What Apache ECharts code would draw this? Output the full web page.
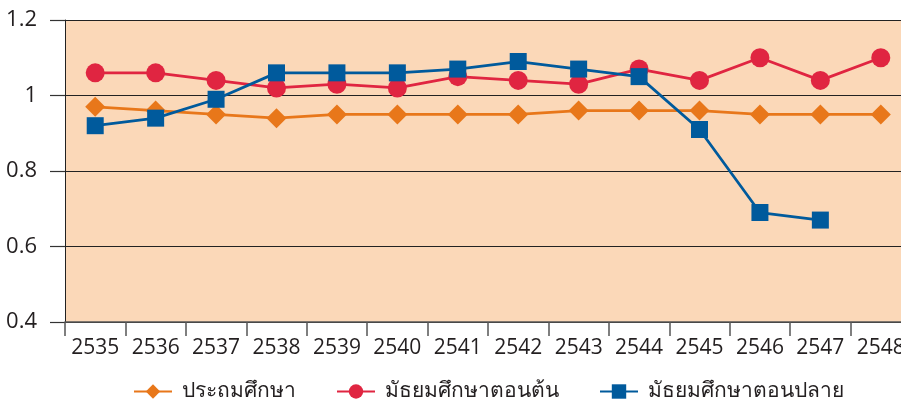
<!DOCTYPE html>
<html><head><meta charset="utf-8">
<script src="https://cdn.jsdelivr.net/npm/echarts@6/dist/echarts.min.js"></script>
<style>html,body{margin:0;padding:0;background:#fff}#c{width:901px;height:400px}</style>
</head><body><div id="c"></div>
<script>
const categories = ['2535','2536','2537','2538','2539','2540','2541','2542','2543','2544','2545','2546','2547','2548'];
const primary = [0.97,0.96,0.95,0.94,0.95,0.95,0.95,0.95,0.96,0.96,0.96,0.95,0.95,0.95];
const lowerSecondary = [1.06,1.06,1.04,1.02,1.03,1.02,1.05,1.04,1.03,1.07,1.04,1.10,1.04,1.10];
const upperSecondary = [0.92,0.94,0.99,1.06,1.06,1.06,1.07,1.09,1.07,1.05,0.91,0.69,0.67,null];
const seriesNames = ['ประถมศึกษา','มัธยมศึกษาตอนต้น','มัธยมศึกษาตอนปลาย'];
const yTicks = {min:0.4, max:1.2, interval:0.2};

const font = '"Open Sans","Noto Sans",sans-serif';
const chart = echarts.init(document.getElementById('c'));
chart.setOption({
  animation:false,
  textStyle:{fontFamily:font},
  grid:{left:65, top:20, width:846, height:302, show:true, backgroundColor:'#FBD8B8', borderWidth:0,
        containLabel:false, outerBoundsMode:'none'},
  legend:{
    top:381, left:133, padding:0, itemWidth:38, itemHeight:18, itemGap:40,
    textStyle:{fontSize:21, color:'#231F20', fontFamily:font, padding:[0,0,0,5]},
    data:seriesNames
  },
  xAxis:{
    type:'category', data:categories, boundaryGap:true,
    axisLine:{lineStyle:{color:'#555', width:1.5}},
    axisTick:{show:true, interval:0, length:14, lineStyle:{color:'#555', width:1.5}},
    axisLabel:{interval:0, hideOverlap:false, fontSize:21, color:'#231F20', margin:16, fontFamily:font},
    splitLine:{show:false}
  },
  yAxis:{
    type:'value', min:yTicks.min, max:yTicks.max, interval:yTicks.interval,
    axisLine:{show:true, lineStyle:{color:'#222', width:1}},
    axisTick:{show:true, length:15, lineStyle:{color:'#333', width:1.2}},
    axisLabel:{fontSize:22, color:'#231F20', margin:28, fontFamily:font,
      formatter:v=>(Math.round(v*10)/10).toString()},
    splitLine:{show:true, lineStyle:{color:'#222', width:1.2}}
  },
  series:[
    {name:seriesNames[0], type:'line', data:primary, symbol:'diamond', symbolSize:20,
     itemStyle:{color:'#E8771A'}, lineStyle:{width:2.8, color:'#E8771A'}, z:2},
    {name:seriesNames[1], type:'line', data:lowerSecondary, symbol:'circle', symbolSize:19,
     itemStyle:{color:'#E02541'}, lineStyle:{width:2.8, color:'#E02541'}, z:3},
    {name:seriesNames[2], type:'line', data:upperSecondary, symbol:'rect', symbolSize:17,
     itemStyle:{color:'#005A9C'}, lineStyle:{width:2.8, color:'#005A9C'}, z:4}
  ]
});
</script></body></html>
